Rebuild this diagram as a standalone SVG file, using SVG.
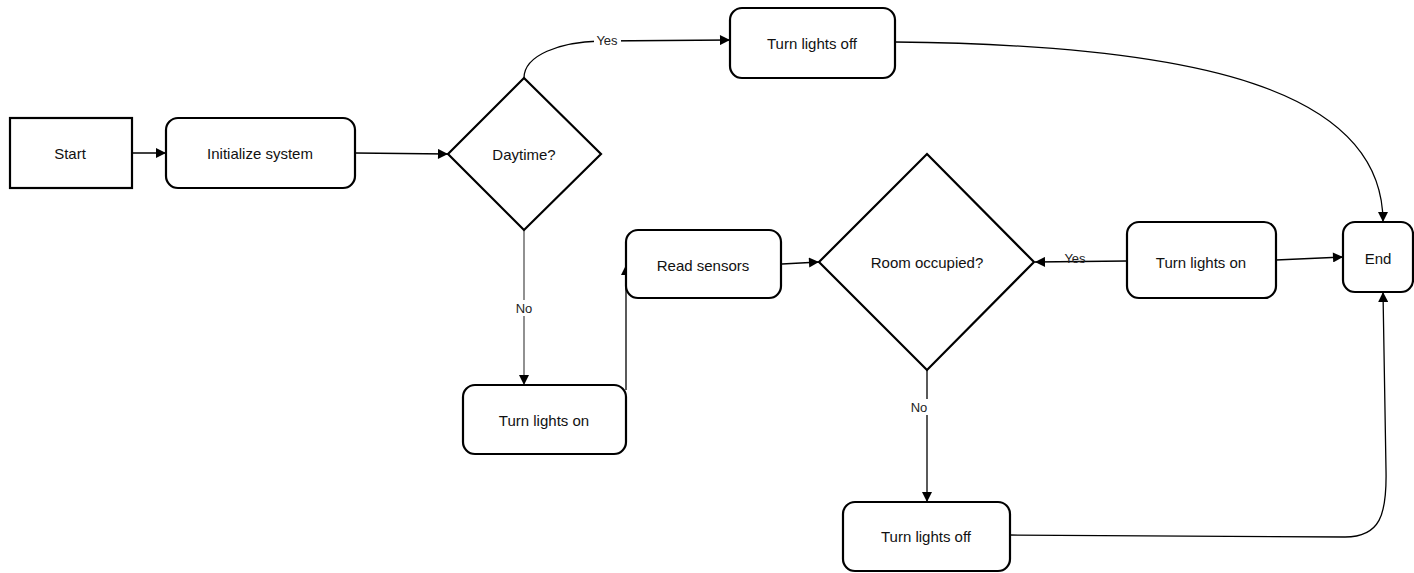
<svg xmlns="http://www.w3.org/2000/svg" width="1414" height="573" viewBox="0 0 1414 573">
<defs>
<marker id="arr" viewBox="0 0 10 10" refX="10" refY="5" markerWidth="11" markerHeight="10" markerUnits="userSpaceOnUse" orient="auto">
<path d="M0,0 L10,5 L0,10 Z" fill="#000"/>
</marker>
<style>
.node{fill:#fff;stroke:#000;stroke-width:2.2}
.lbl{font-family:"Liberation Sans",Arial,sans-serif;font-size:15px;fill:#111;text-anchor:middle;dominant-baseline:central}
.elbl{font-family:"Liberation Sans",Arial,sans-serif;font-size:13px;fill:#222;text-anchor:middle;dominant-baseline:central}
.edge{fill:none;stroke:#000;stroke-width:1.3;marker-end:url(#arr)}
.lblbg{fill:#fff}
</style>
</defs>
<rect width="1414" height="573" fill="#fff"/>
<g id="connectors">
<path class="edge" d="M132,153 L166,153"/>
<path class="edge" d="M355,153 L448,154"/>
<path class="edge" d="M524,78 C524,55 560,42 600,41 L730,40"/>
<path class="edge" d="M895,42 C1200,45 1383,90 1383,222"/>
<path class="edge" style="stroke:#555" d="M524,230 L524,385"/>
<path class="edge" d="M626,390 L626,265"/>
<path class="edge" d="M782,264 L819,262"/>
<path class="edge" d="M1127,261 L1035,262"/>
<path class="edge" d="M1276,260 L1343,257"/>
<path class="edge" d="M927,370 L927,502"/>
<path class="edge" d="M1010,535 L1345,537 C1380,537 1387,515 1386,470 L1383,292"/>
<rect class="lblbg" x="594" y="32" width="27" height="16"/>
<text class="elbl" x="607" y="40">Yes</text>
<rect class="lblbg" x="513" y="300" width="22" height="16"/>
<text class="elbl" x="524" y="308">No</text>
<rect class="lblbg" x="909" y="399" width="22" height="16"/>
<text class="elbl" x="919" y="407">No</text>
<text class="elbl" x="1075" y="258">Yes</text>
</g>
<g id="start"><rect class="node" x="10" y="118" width="122" height="70"/><text class="lbl" x="70" y="153">Start</text></g>
<g id="init"><rect class="node" x="166" y="118" width="189" height="70" rx="12"/><text class="lbl" x="260" y="153">Initialize system</text></g>
<g id="daytime"><polygon class="node" points="524,78 601,154 524,230 448,154"/><text class="lbl" x="524" y="154">Daytime?</text></g>
<g id="off1"><rect class="node" x="730" y="8" width="165" height="70" rx="12"/><text class="lbl" x="812" y="43">Turn lights off</text></g>
<g id="on1"><rect class="node" x="463" y="385" width="163" height="69" rx="12"/><text class="lbl" x="544" y="420">Turn lights on</text></g>
<g id="read"><rect class="node" x="626" y="230" width="155" height="68" rx="12"/><text class="lbl" x="703" y="265">Read sensors</text></g>
<g id="room"><polygon class="node" points="927,154 1034,262 927,370 819,262"/><text class="lbl" x="927" y="262">Room occupied?</text></g>
<g id="on2"><rect class="node" x="1127" y="222" width="149" height="76" rx="12"/><text class="lbl" x="1201" y="262">Turn lights on</text></g>
<g id="end"><rect class="node" x="1343" y="222" width="70" height="70" rx="12"/><text class="lbl" x="1378" y="258">End</text></g>
<g id="off2"><rect class="node" x="843" y="502" width="167" height="69" rx="12"/><text class="lbl" x="926" y="536">Turn lights off</text></g>
</svg>
